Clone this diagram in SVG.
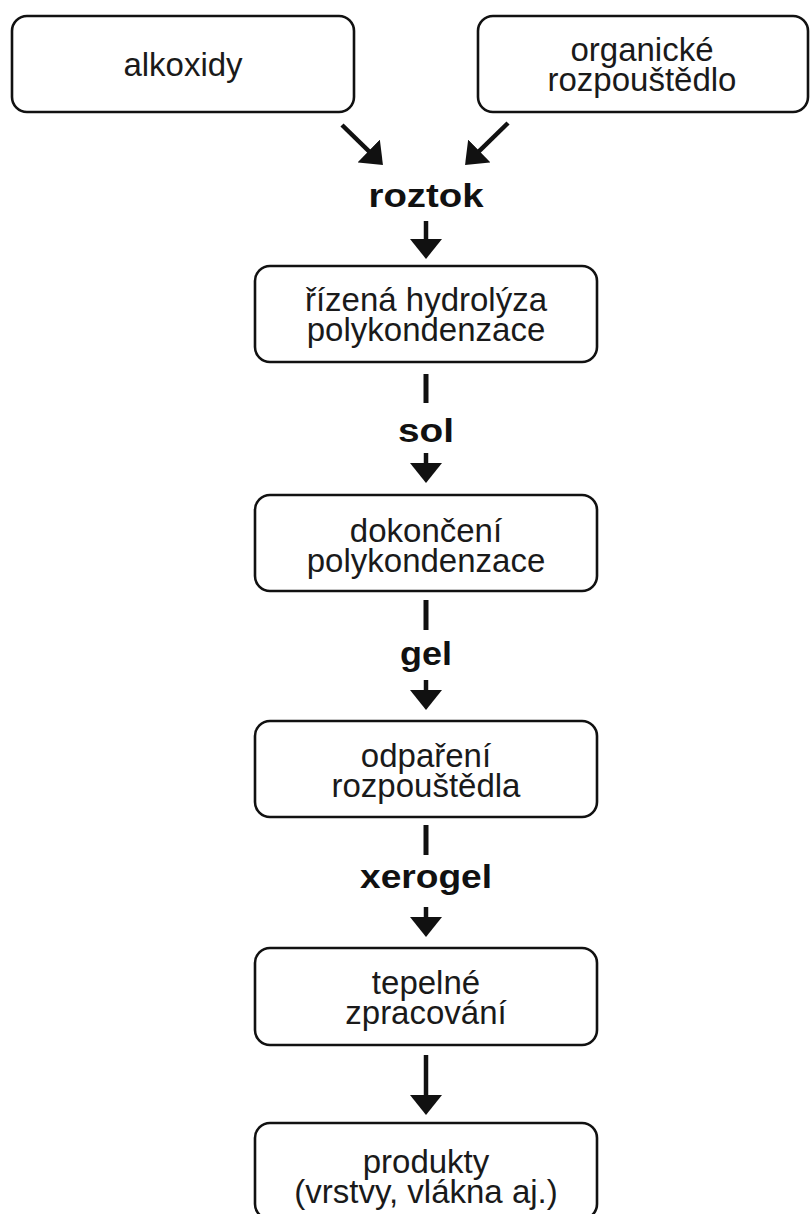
<svg xmlns="http://www.w3.org/2000/svg" width="810" height="1214" viewBox="0 0 810 1214">
<style>
.box{fill:#fff;stroke:#111;stroke-width:2.6}
.t{font-family:"Liberation Sans",Arial,Helvetica,sans-serif;font-size:33px;fill:#1a1a1a;text-anchor:middle}
.b{font-family:"Liberation Sans",Arial,Helvetica,sans-serif;font-size:34px;font-weight:bold;fill:#111;text-anchor:middle}
.shaft{stroke:#111;stroke-width:4.5;fill:none}
.bar{stroke:#111;stroke-width:5;fill:none}
</style>
<defs>
<marker id="ah" markerUnits="userSpaceOnUse" viewBox="0 0 20 32" refX="16" refY="16" markerWidth="20" markerHeight="32" orient="auto">
<path d="M0,0 L20,16 L0,32 z" fill="#111"/>
</marker>
</defs>
<rect width="810" height="1214" fill="#fff"/>
<g id="alkoxidy">
<rect class="box" x="12" y="16" width="342" height="96" rx="15"/>
<text class="t" x="183" y="76">alkoxidy</text>
</g>
<g id="rozpoustedlo">
<rect class="box" x="478" y="16" width="330" height="96" rx="15"/>
<text class="t" x="642" y="61">organické</text>
<text class="t" x="642" y="91">rozpouštědlo</text>
</g>
<g id="roztok">
<text class="b" x="426" y="207" textLength="115" lengthAdjust="spacingAndGlyphs">roztok</text>
</g>
<g id="hydrolyza">
<rect class="box" x="255" y="266" width="342" height="96" rx="15"/>
<text class="t" x="426" y="311">řízená hydrolýza</text>
<text class="t" x="426" y="341">polykondenzace</text>
</g>
<g id="sol">
<text class="b" x="426" y="442" textLength="56" lengthAdjust="spacingAndGlyphs">sol</text>
</g>
<g id="dokonceni">
<rect class="box" x="255" y="495" width="342" height="96" rx="15"/>
<text class="t" x="426" y="542">dokončení</text>
<text class="t" x="426" y="572">polykondenzace</text>
</g>
<g id="gel">
<text class="b" x="426" y="665" textLength="52" lengthAdjust="spacingAndGlyphs">gel</text>
</g>
<g id="odpareni">
<rect class="box" x="255" y="721" width="342" height="96" rx="15"/>
<text class="t" x="426" y="767">odpaření</text>
<text class="t" x="426" y="797">rozpouštědla</text>
</g>
<g id="xerogel">
<text class="b" x="426" y="888" textLength="132" lengthAdjust="spacingAndGlyphs">xerogel</text>
</g>
<g id="tepelne">
<rect class="box" x="255" y="948" width="342" height="97" rx="15"/>
<text class="t" x="426" y="994">tepelné</text>
<text class="t" x="426" y="1024">zpracování</text>
</g>
<g id="produkty">
<rect class="box" x="255" y="1123" width="342" height="96" rx="15"/>
<text class="t" x="426" y="1173">produkty</text>
<text class="t" x="426" y="1203">(vrstvy, vlákna aj.)</text>
</g>
<g id="connectors">
<line class="shaft" x1="342" y1="125" x2="380.1" y2="162.2" marker-end="url(#ah)"/>
<line class="shaft" x1="508" y1="123" x2="467.9" y2="162.2" marker-end="url(#ah)"/>
<line class="shaft" x1="426" y1="221" x2="426" y2="255" marker-end="url(#ah)"/>
<line class="bar" x1="426" y1="374" x2="426" y2="403"/>
<line class="shaft" x1="426" y1="453" x2="426" y2="479" marker-end="url(#ah)"/>
<line class="bar" x1="426" y1="600" x2="426" y2="630"/>
<line class="shaft" x1="426" y1="680" x2="426" y2="706" marker-end="url(#ah)"/>
<line class="bar" x1="426" y1="825" x2="426" y2="855"/>
<line class="shaft" x1="426" y1="907" x2="426" y2="933" marker-end="url(#ah)"/>
<line class="shaft" x1="426" y1="1055" x2="426" y2="1111" marker-end="url(#ah)"/>
</g>
</svg>
